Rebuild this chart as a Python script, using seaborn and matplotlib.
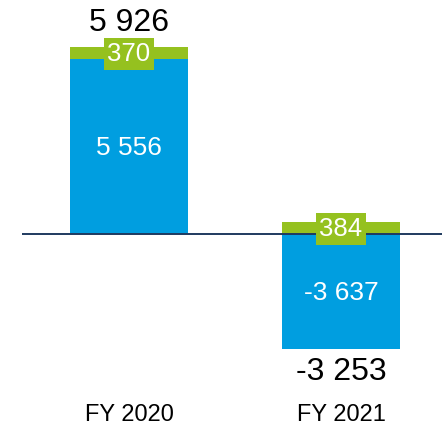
import matplotlib
matplotlib.use("Agg")
import matplotlib.pyplot as plt
import matplotlib.transforms as mtransforms
import seaborn as sns
import pandas as pd

categories = ["FY 2020", "FY 2021"]
base_values = [5556, -3637]
top_values = [370, 384]
total_labels = ["5 926", "-3 253"]
base_labels = ["5 556", "-3 637"]
top_labels = ["370", "384"]

BLUE = "#009EE0"
GREEN = "#95C11F"
NAVY = "#1F3A5F"

sns.set_theme(style="white")
plt.rcParams["font.family"] = ["Liberation Sans", "DejaVu Sans"]

fig = plt.figure(figsize=(4.42, 4.26), dpi=100)
ax = fig.add_axes([0, 0, 1, 1])

# green portion: from the top of the positive part down to zero
green_ends = [max(b, 0) + t for b, t in zip(base_values, top_values)]
df_green = pd.DataFrame({"cat": categories, "val": green_ends})
df_blue = pd.DataFrame({"cat": categories, "val": base_values})

sns.barplot(data=df_green, x="cat", y="val", color=GREEN, width=0.557,
            saturation=1, ax=ax, zorder=2, linewidth=0)
sns.barplot(data=df_blue, x="cat", y="val", color=BLUE, width=0.557,
            saturation=1, ax=ax, zorder=3, linewidth=0)

ax.set_xlim(-0.608, 1.476)
ax.set_ylim(-6084, 7415)
ax.axis("off")

ax.plot([-0.505, 1.476], [0, 0], color=NAVY, lw=1.4, zorder=4,
        solid_capstyle="butt")

trans = mtransforms.blended_transform_factory(ax.transData, ax.transAxes)
for i, (b, t) in enumerate(zip(base_values, top_values)):
    lo = max(b, 0)
    total = b + t
    # base label
    ax.annotate(base_labels[i], (i, b / 2), xytext=(0, -1.5),
                textcoords="offset points", ha="center", va="center",
                color="white", fontsize=19, zorder=6)
    # top label with green box
    ax.annotate(top_labels[i], (i, lo + t / 2), xytext=(0, -0.8),
                textcoords="offset points", ha="center", va="center",
                color="white", fontsize=18.5, zorder=6,
                bbox=dict(boxstyle="square,pad=0.14", fc=GREEN, ec="none"))
    # total label
    if total >= 0:
        ax.annotate(total_labels[i], (i, lo + t), xytext=(0, 17.5),
                    textcoords="offset points", ha="center", va="center",
                    fontsize=23, color="black")
    else:
        ax.annotate(total_labels[i], (i, b), xytext=(0, -17),
                    textcoords="offset points", ha="center", va="center",
                    fontsize=23, color="black")
    ax.annotate(categories[i], (i, 1 - 413 / 426), xycoords=trans,
                xytext=(0, -1.5), textcoords="offset points", ha="center",
                va="center", fontsize=17, color="black")

fig.savefig("out.png", dpi=100)
